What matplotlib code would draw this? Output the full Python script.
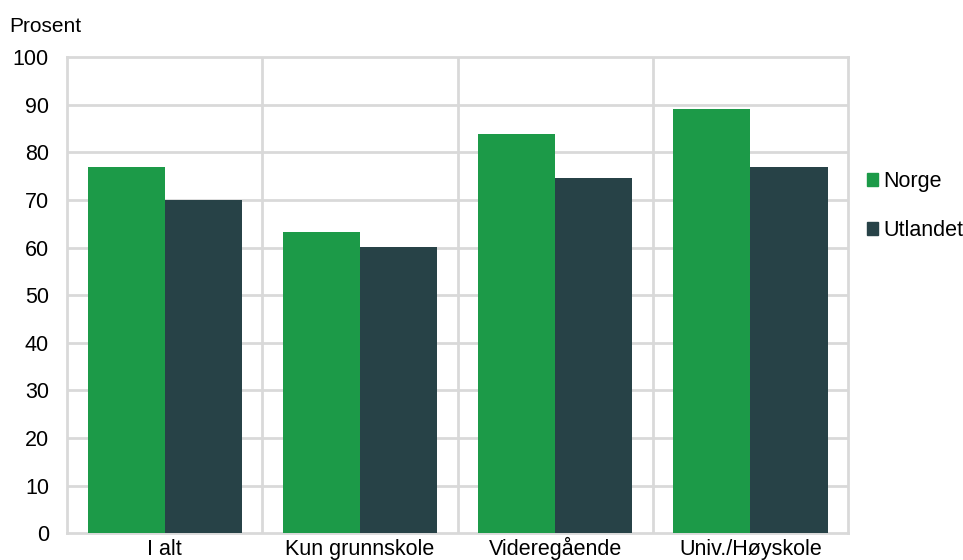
import numpy as np
from matplotlib import pyplot as plt
from matplotlib.patches import Patch

plt.rcParams['font.family'] = ['Liberation Sans', 'DejaVu Sans']

categories = ['I alt', 'Kun grunnskole', 'Videregående', 'Univ./Høyskole']
norge = [77.0, 63.3, 83.8, 89.0]
utlandet = [70.0, 60.2, 74.7, 77.0]

green = '#1c9a48'
dark = '#274247'
grid = '#d9d9d9'

fig = plt.figure(figsize=(9.63, 5.6), dpi=100)
ax = fig.add_axes([0.0696, 0.048, 0.811, 0.85])

x = np.arange(len(categories))
w = 0.395
ax.bar(x - w / 2, norge, w, color=green, zorder=3, label='Norge')
ax.bar(x + w / 2, utlandet, w, color=dark, zorder=3, label='Utlandet')

ax.set_xlim(-0.5, len(categories) - 0.5)
ax.set_ylim(0, 100)
ax.set_yticks(range(0, 101, 10))
ax.set_xticks(x)
ax.set_xticklabels(categories, fontsize=15.5)
for lbl in ax.get_xticklabels():
    lbl.set_va('baseline')
ax.tick_params(axis='y', labelsize=15.5, length=0, pad=13)
ax.tick_params(axis='x', length=0, pad=16)

# gridlines: horizontal at every 10, vertical between categories
for yv in range(10, 100, 10):
    ax.axhline(yv, color=grid, lw=2, zorder=1)
for xv in np.arange(0.5, len(categories) - 0.5, 1):
    ax.axvline(xv, color=grid, lw=2, zorder=1)
for s in ax.spines.values():
    s.set_color(grid)
    s.set_linewidth(2)

fig.text(0.010, 0.953, 'Prosent', fontsize=15, va='center')

handles = [Patch(color=green), Patch(color=dark)]
ax.legend(handles, ['Norge', 'Utlandet'], loc='center left', bbox_to_anchor=(1.0, 0.687),
          frameon=False, fontsize=15.5, handlelength=0.5, handleheight=0.5,
          handletextpad=0.25, labelspacing=1.3, borderpad=0, borderaxespad=0.9)

fig.savefig('out.png', dpi=100)
